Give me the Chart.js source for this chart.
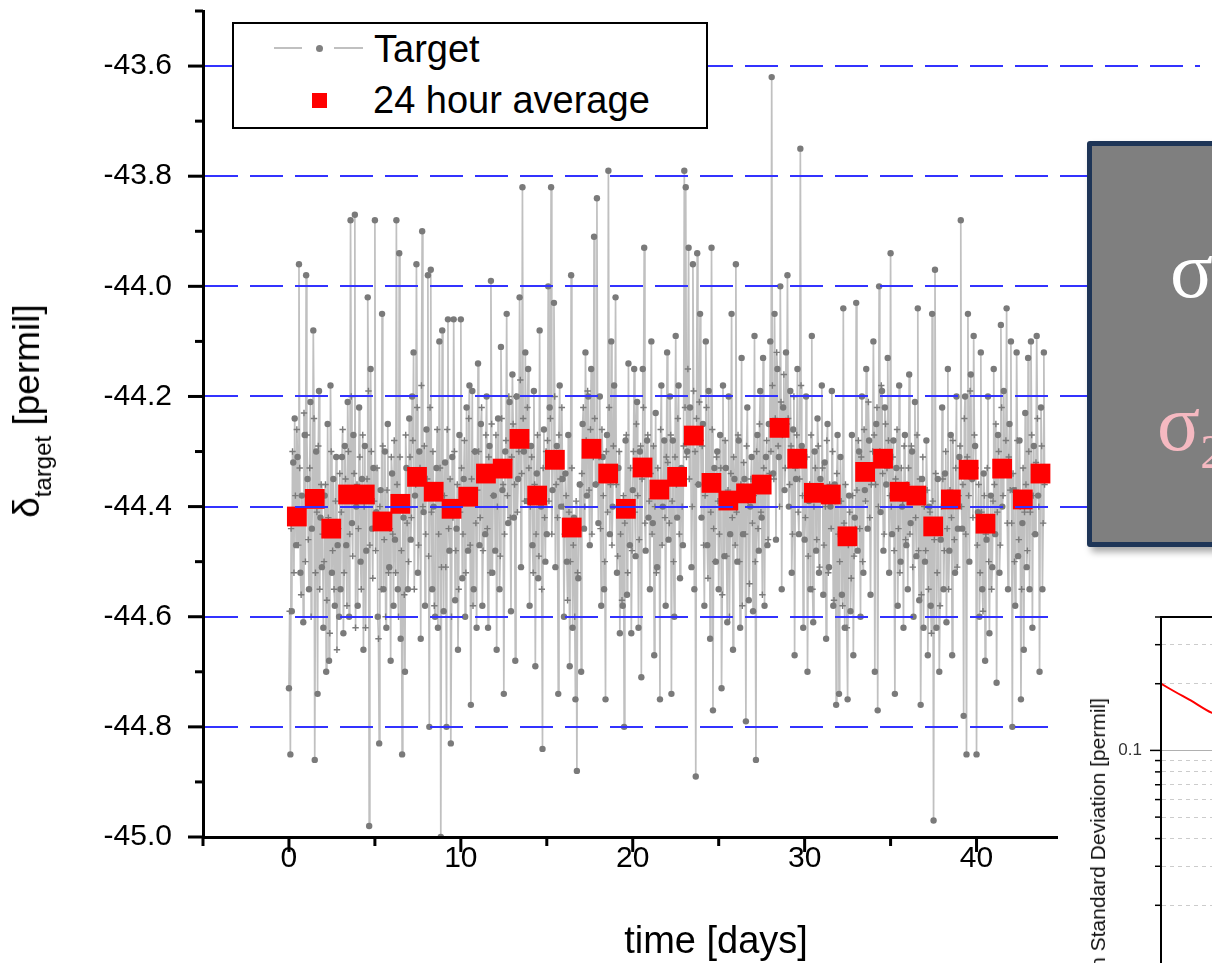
<!DOCTYPE html>
<html lang="en">
<head>
<meta charset="UTF-8">
<title>δ target – 24 hour average</title>
<script src="https://cdn.jsdelivr.net/npm/chart.js"></script>
<style>
  html, body { margin: 0; padding: 0; background: #fff; overflow: hidden; }
  body { width: 1212px; height: 963px; position: relative; font-family: "Liberation Sans", Arial, sans-serif; color: #000; }
  #main { position: absolute; left: 0; top: -3px; }
  #ytitle, #xtitle, #insetTitle { position: absolute; left: 0; top: 0; white-space: nowrap; line-height: 1; transform-origin: 0 0; }
  #ytitle { font-size: 37px; transform: translate(8px, 411px) rotate(-90deg) translateX(-50%); }
  #ytitle span { font-size: 24px; vertical-align: -12px; }
  #xtitle { font-size: 38px; left: 716px; top: 921px; transform: translateX(-50%); }
  #legend { position: absolute; left: 232px; top: 22px; width: 476px; height: 107px; box-sizing: border-box; border: 2px solid #000; background: #fff; }
  #legend div { position: absolute; }
  #legend .txt { font-size: 38px; line-height: 1; white-space: nowrap; }
  #note { position: absolute; left: 1087px; top: 141px; width: 200px; height: 406px; box-sizing: border-box;
          background: #7f7f7f; border: 5px solid #1e3557; border-radius: 3px; box-shadow: 4px 5px 7px rgba(0,0,0,0.35); }
  #note .sig { position: absolute; font-family: "Liberation Serif", "DejaVu Serif", serif; font-size: 80px; line-height: 1; white-space: nowrap; }
  #note .sig span { font-size: 48px; vertical-align: -18px; }
  #insetBg { position: absolute; left: 1058px; top: 570px; width: 200px; height: 420px; background: #fff; }
  #inset { position: absolute; left: 1058px; top: 570px; }
  #insetTitle { font-size: 21px; color: #111; transform: translate(1087px, 698px) rotate(-90deg) translateX(-100%); }
</style>
</head>
<body>
<canvas id="main" width="1214" height="966"></canvas>
<div id="ytitle">δ<span>target</span> [permil]</div>
<div id="xtitle">time [days]</div>

<div id="legend">
  <div style="left:40px; top:23px; width:28px; height:1.5px; background:#c0c0c0"></div>
  <div style="left:81.5px; top:20.5px; width:7px; height:7px; border-radius:50%; background:#808080"></div>
  <div style="left:100px; top:23px; width:29px; height:1.5px; background:#c0c0c0"></div>
  <div class="txt" style="left:140px; top:6px">Target</div>
  <div style="left:78px; top:69px; width:15px; height:15px; background:#ff0000"></div>
  <div class="txt" style="left:139px; top:57px">24 hour average</div>
</div>

<div id="note">
  <div class="sig" style="left:78px; top:84px; color:#ffffff">σ</div>
  <div class="sig" style="left:65px; top:237px; color:#f5b9c1">σ<span>2</span></div>
</div>

<div id="insetBg"></div>
<canvas id="inset" width="400" height="402"></canvas>
<div id="insetTitle">Allan Standard Deviation [permil]</div>

<script>
// target readings every hour; even hours (dots) and odd hours (crosses), one row per day
const HOURS_PER_DAY = 24;
const evenHourValues = [
  -44.73, -44.85, -44.59, -44.32, -44.24, -44.47, -44.31, -43.96, -44.52, -44.38, -44.61, -44.27, // day 0
  -43.98, -44.35, -44.55, -44.21, -44.44, -44.08, -44.86, -44.30, -44.74, -44.19, -44.42, -44.51,
  -44.62, -44.38, -44.70, -44.25, -44.68, -44.18, -44.52, -44.35, -44.58, -44.31, -44.47, -44.60,
  -44.55, -44.31, -44.63, -44.29, -44.47, -44.21, -44.60, -43.88, -44.43, -44.27, -43.87, -44.40,
  -44.58, -44.22, -44.50, -44.35, -44.66, -44.29, -44.48, -44.02, -44.98, -44.15, -44.44, -44.33,
  -43.88, -44.41, -44.60, -44.83, -44.37, -44.05, -44.55, -44.30, -44.62, -44.25, -44.51, -44.68, // day 5
  -44.34, -44.58, -44.46, -43.88, -44.55, -43.94, -44.64, -44.85, -44.42, -44.70, -44.33, -44.55,
  -44.24, -44.46, -44.20, -44.12, -44.38, -43.96, -44.52, -44.30, -44.64, -43.90, -44.41, -44.58,
  -44.26, -43.98, -44.80, -43.97, -44.55, -44.40, -44.60, -44.33, -44.62, -44.10, -45.00, -44.08,
  -44.59, -44.32, -44.80, -44.06, -44.48, -44.83, -44.31, -44.06, -44.57, -44.44, -44.66, -44.27,
  -44.06, -44.53, -44.35, -44.60, -44.22, -44.48, -44.18, -44.76, -44.19, -44.55, -44.30, -44.62, // day 10
  -44.14, -44.47, -44.25, -44.58, -44.33, -44.45, -44.20, -44.62, -44.29, -43.99, -44.52, -44.38,
  -44.48, -44.66, -44.24, -44.55, -44.11, -44.37, -44.74, -44.30, -44.05, -44.43, -44.21, -44.59,
  -44.16, -44.42, -44.68, -44.20, -44.35, -44.02, -44.51, -43.82, -44.30, -44.12, -44.39, -44.15,
  -44.58, -44.29, -44.47, -44.19, -44.69, -44.34, -44.53, -44.08, -44.40, -44.84, -44.26, -44.50,
  -44.45, -44.00, -44.22, -43.82, -44.37, -44.03, -44.51, -44.29, -44.74, -44.18, -44.40, -44.35, // day 15
  -44.60, -44.34, -44.50, -44.27, -44.69, -43.98, -44.62, -44.42, -44.75, -44.88, -44.53, -44.36,
  -44.70, -44.25, -44.44, -44.12, -44.38, -44.20, -44.47, -44.15, -44.29, -43.91, -44.36, -43.84,
  -44.43, -44.20, -44.58, -44.31, -44.55, -44.75, -44.27, -43.79, -44.45, -44.10, -44.40, -44.18,
  -44.02, -44.52, -44.33, -44.63, -44.41, -44.58, -44.80, -44.28, -44.56, -44.14, -44.47, -44.63,
  -44.37, -44.15, -44.49, -44.21, -44.62, -44.30, -44.71, -44.15, -43.93, -44.48, -44.28, -44.42, // day 20
  -44.55, -44.10, -44.43, -44.67, -44.23, -44.51, -44.36, -44.75, -44.18, -44.40, -44.28, -44.58,
  -44.12, -44.46, -44.20, -44.74, -44.28, -44.60, -44.09, -44.42, -44.18, -44.53, -44.33, -44.47,
  -43.79, -43.82, -44.30, -43.93, -44.22, -44.51, -43.96, -44.55, -44.89, -43.94, -44.36, -44.05,
  -44.42, -44.25, -44.58, -44.10, -44.47, -44.19, -44.64, -43.93, -44.77, -44.33, -44.50, -44.30,
  -44.55, -44.27, -44.73, -44.18, -44.49, -44.33, -44.61, -44.20, -44.45, -44.05, -44.66, -44.35, // day 25
  -43.96, -44.50, -44.28, -44.62, -44.13, -44.45, -44.35, -44.79, -44.22, -44.57, -44.40, -44.31,
  -44.59, -44.09, -44.86, -44.27, -44.48, -44.19, -44.42, -44.13, -44.58, -44.31, -44.47, -44.25,
  -44.10, -43.62, -44.34, -44.05, -44.46, -44.15, -44.31, -44.00, -44.55, -44.22, -44.37, -44.12,
  -43.98, -44.40, -44.19, -44.52, -44.26, -44.67, -44.35, -44.15, -44.45, -43.75, -44.29, -44.62,
  -44.46, -44.20, -44.70, -44.39, -44.55, -44.09, -44.61, -44.30, -44.48, -44.24, -44.52, -44.35, // day 30
  -44.18, -44.56, -44.32, -44.64, -44.25, -44.51, -44.40, -44.19, -44.58, -44.36, -44.76, -44.27,
  -44.74, -44.31, -44.56, -44.04, -44.62, -44.45, -44.75, -44.38, -44.59, -44.27, -44.67, -44.42,
  -44.03, -44.48, -44.30, -44.60, -44.20, -44.52, -44.37, -44.15, -44.44, -44.28, -44.56, -44.33,
  -44.10, -44.70, -44.25, -44.77, -44.00, -44.41, -44.19, -44.48, -44.22, -44.36, -44.13, -44.52,
  -43.94, -44.45, -44.28, -44.74, -44.33, -44.58, -44.18, -44.50, -44.40, -44.62, -44.27, -44.47, // day 35
  -44.55, -44.16, -44.43, -44.30, -44.60, -44.21, -44.49, -44.04, -44.57, -44.76, -44.35, -44.62,
  -44.50, -44.28, -44.67, -44.40, -44.58, -44.05, -44.97, -43.97, -44.62, -44.35, -44.70, -44.46,
  -44.22, -44.55, -44.34, -44.61, -44.15, -44.48, -44.27, -44.67, -44.38, -44.52, -44.20, -44.44,
  -44.31, -43.88, -44.44, -44.78, -44.20, -44.85, -44.05, -44.50, -44.16, -44.35, -44.09, -44.29,
  -44.85, -44.41, -44.60, -44.12, -44.55, -44.34, -44.68, -44.46, -44.20, -44.63, -44.38, -44.51, // day 40
  -44.15, -44.45, -44.72, -44.27, -44.52, -44.07, -44.40, -44.19, -44.33, -44.04, -44.55, -44.25,
  -44.10, -44.80, -44.37, -44.58, -44.12, -44.49, -44.28, -44.75, -44.43, -44.66, -44.23, -44.51,
  -44.13, -44.55, -44.10, -44.62, -44.29, -44.45, -44.09, -44.38, -44.70, -44.22, -44.55, -44.12
];
const oddHourValues = [
  -44.59, -44.44, -44.30, -44.52, -44.38, -44.26, -44.47, -44.33, -44.56, -44.41, -44.23, -44.50, // day 0
  -44.27, -44.46, -44.33, -44.60, -44.38, -44.24, -44.52, -44.41, -44.29, -44.55, -44.36, -44.45,
  -44.50, -44.36, -44.57, -44.42, -44.63, -44.30, -44.48, -44.55, -44.39, -44.66, -44.44, -44.34,
  -44.41, -44.26, -44.52, -44.35, -44.58, -44.30, -44.45, -44.20, -44.49, -44.34, -44.62, -44.36,
  -44.44, -44.31, -44.55, -44.27, -44.40, -44.62, -44.35, -44.19, -44.47, -44.30, -44.53, -44.39,
  -44.48, -44.33, -44.64, -44.40, -44.55, -44.29, -44.46, -44.60, -44.37, -44.52, -44.44, -44.31, // day 5
  -44.45, -44.28, -44.52, -44.36, -44.60, -44.31, -44.48, -44.39, -44.56, -44.27, -44.43, -44.50,
  -44.31, -44.42, -44.28, -44.55, -44.36, -44.22, -44.47, -44.33, -44.18, -44.40, -44.29, -44.45,
  -44.35, -44.49, -44.22, -44.41, -44.30, -44.58, -44.37, -44.26, -44.45, -44.33, -44.51, -44.40,
  -44.38, -44.51, -44.26, -44.44, -44.35, -44.60, -44.42, -44.30, -44.48, -44.36, -44.55, -44.41,
  -44.33, -44.45, -44.28, -44.52, -44.39, -44.24, -44.47, -44.35, -44.58, -44.30, -44.43, -44.37, // day 10
  -44.30, -44.42, -44.22, -44.48, -44.35, -44.27, -44.44, -44.31, -44.52, -44.25, -44.38, -44.33,
  -44.27, -44.40, -44.33, -44.49, -44.24, -44.36, -44.45, -44.28, -44.38, -44.20, -44.42, -44.31,
  -44.25, -44.36, -44.20, -44.41, -44.30, -44.17, -44.34, -44.24, -44.39, -44.28, -44.22, -44.33,
  -44.40, -44.31, -44.52, -44.36, -44.45, -44.27, -44.49, -44.38, -44.55, -44.33, -44.42, -44.30,
  -44.28, -44.39, -44.24, -44.45, -44.31, -44.20, -44.36, -44.42, -44.27, -44.35, -44.22, -44.40, // day 15
  -44.45, -44.38, -44.57, -44.41, -44.50, -44.33, -44.47, -44.60, -44.39, -44.52, -44.44, -44.36,
  -44.34, -44.22, -44.40, -44.28, -44.19, -44.37, -44.26, -44.45, -44.31, -44.24, -44.36, -44.29,
  -44.31, -44.44, -44.26, -44.38, -44.50, -44.30, -44.41, -44.22, -44.36, -44.47, -44.29, -44.35,
  -44.36, -44.49, -44.30, -44.45, -44.57, -44.38, -44.43, -44.27, -44.52, -44.40, -44.33, -44.48,
  -44.30, -44.41, -44.25, -44.38, -44.46, -44.29, -44.35, -44.22, -44.43, -44.32, -44.27, -44.39, // day 20
  -44.34, -44.45, -44.29, -44.40, -44.52, -44.33, -44.38, -44.26, -44.47, -44.36, -44.42, -44.31,
  -44.32, -44.43, -44.27, -44.39, -44.50, -44.31, -44.36, -44.24, -44.45, -44.34, -44.40, -44.29,
  -44.22, -44.31, -44.15, -44.35, -44.26, -44.40, -44.19, -44.30, -44.24, -44.36, -44.21, -44.28,
  -44.29, -44.47, -44.38, -44.22, -44.53, -44.35, -44.41, -44.26, -44.44, -44.50, -44.31, -44.39,
  -44.45, -44.33, -44.56, -44.40, -44.28, -44.49, -44.37, -44.60, -44.34, -44.42, -44.31, -44.47, // day 25
  -44.41, -44.27, -44.50, -44.36, -44.58, -44.32, -44.45, -44.29, -44.39, -44.54, -44.35, -44.43,
  -44.38, -44.50, -44.30, -44.44, -44.25, -44.41, -44.56, -44.33, -44.37, -44.28, -44.46, -44.34,
  -44.30, -44.18, -44.35, -44.24, -44.12, -44.29, -44.40, -44.21, -44.27, -44.16, -44.33, -44.25,
  -44.24, -44.36, -44.29, -44.45, -44.20, -44.33, -44.27, -44.41, -44.35, -44.18, -44.38, -44.30,
  -44.42, -44.31, -44.49, -44.36, -44.27, -44.55, -44.40, -44.33, -44.46, -44.29, -44.51, -44.37, // day 30
  -44.33, -44.47, -44.40, -44.28, -44.52, -44.36, -44.44, -44.30, -44.57, -44.39, -44.34, -44.45,
  -44.50, -44.39, -44.58, -44.43, -44.36, -44.62, -44.47, -44.41, -44.53, -44.38, -44.49, -44.44,
  -44.37, -44.28, -44.44, -44.31, -44.50, -44.26, -44.39, -44.33, -44.21, -44.42, -44.36, -44.30,
  -44.27, -44.36, -44.22, -44.40, -44.30, -44.18, -44.34, -44.45, -44.25, -44.33, -44.28, -44.38,
  -44.40, -44.31, -44.48, -44.35, -44.26, -44.44, -44.52, -44.33, -44.39, -44.29, -44.46, -44.36, // day 35
  -44.33, -44.45, -44.29, -44.51, -44.38, -44.42, -44.27, -44.48, -44.35, -44.56, -44.31, -44.40,
  -44.48, -44.37, -44.55, -44.41, -44.63, -44.39, -44.46, -44.34, -44.52, -44.43, -44.58, -44.40,
  -44.35, -44.48, -44.30, -44.44, -44.55, -44.37, -44.42, -44.28, -44.46, -44.33, -44.51, -44.38,
  -44.29, -44.40, -44.36, -44.24, -44.45, -44.31, -44.38, -44.19, -44.35, -44.42, -44.27, -44.33,
  -44.47, -44.36, -44.52, -44.41, -44.59, -44.38, -44.45, -44.33, -44.50, -44.42, -44.55, -44.39, // day 40
  -44.36, -44.25, -44.41, -44.30, -44.47, -44.22, -44.38, -44.34, -44.28, -44.43, -44.31, -44.37,
  -44.43, -44.34, -44.50, -44.37, -44.28, -44.46, -44.40, -44.55, -44.33, -44.41, -44.36, -44.48,
  -44.30, -44.41, -44.27, -44.38, -44.45, -44.32, -44.24, -44.40, -44.35, -44.29, -44.43, -44.36
];

// 24 hour averages
const avgDays = [0.46, 1.5, 2.46, 3.44, 4.41, 5.44, 6.48, 7.45, 8.42, 9.46, 10.43, 11.46, 12.43, 13.41, 14.44,
  15.47, 16.45, 17.6, 18.57, 19.6, 20.57, 21.55, 22.58, 23.55, 24.58, 25.56, 26.59, 27.5, 28.54, 29.57,
  30.54, 31.52, 32.49, 33.52, 34.56, 35.53, 36.5, 37.48, 38.51, 39.54, 40.52, 41.49, 42.69, 43.72];
const avgValues = [-44.418, -44.386, -44.440, -44.378, -44.378, -44.427, -44.395, -44.346, -44.373, -44.404,
  -44.382, -44.340, -44.331, -44.277, -44.380, -44.315, -44.438, -44.295, -44.340, -44.404,
  -44.329, -44.369, -44.346, -44.271, -44.357, -44.389, -44.376, -44.360, -44.257, -44.313,
  -44.375, -44.378, -44.454, -44.337, -44.313, -44.373, -44.380, -44.436, -44.387, -44.333,
  -44.431, -44.331, -44.387, -44.340];

// axes
const xTickValues = [-5, 0, 5, 10, 15, 20, 25, 30, 35, 40, 45, 50];
const xTickLabels = [0, 10, 20, 30, 40, 50];
const yTickValues = [-45.0, -44.9, -44.8, -44.7, -44.6, -44.5, -44.4, -44.3, -44.2, -44.1, -44.0, -43.9, -43.8, -43.7, -43.6, -43.5];
const yTickLabels = [-45.0, -44.8, -44.6, -44.4, -44.2, -44.0, -43.8, -43.6];
const yGridValues = [-44.8, -44.6, -44.4, -44.2, -44.0, -43.8, -43.6];

// inset (standard deviation vs averaging time)
const insetTau = [0, 0.5, 1.0, 1.7, 2.5];
const insetSigma = [0.2, 0.183, 0.168, 0.148, 0.136];
const insetTickValues = [0.02, 0.03, 0.04, 0.05, 0.06, 0.07, 0.08, 0.09, 0.1, 0.2, 0.3, 0.4];
const insetTickLabels = [0.1];

const FONT = "'Liberation Sans', Arial, sans-serif";
const has = (list, v) => list.some(t => Math.abs(t - v) < 1e-6);
const noEdgePadding = s => { s.paddingTop = 0; s.paddingBottom = 0; s.paddingLeft = 0; s.paddingRight = 0; };

// outward tick marks, long for labelled values, short otherwise
function tickMarks(cfg) {
  return {
    id: 'tickMarks',
    afterDraw(chart) {
      const ctx = chart.ctx;
      const a = chart.chartArea;
      ctx.save();
      ctx.strokeStyle = '#000';
      ctx.lineWidth = cfg.width;
      if (cfg.x) {
        const s = chart.scales.x;
        cfg.x.values.forEach(v => {
          const px = s.getPixelForValue(v);
          const len = has(cfg.x.major, v) ? cfg.x.majorLen : cfg.x.minorLen;
          ctx.beginPath(); ctx.moveTo(px, a.bottom); ctx.lineTo(px, a.bottom + len); ctx.stroke();
        });
      }
      if (cfg.y) {
        const s = chart.scales.y;
        cfg.y.values.forEach(v => {
          const py = s.getPixelForValue(v);
          const len = has(cfg.y.major, v) ? cfg.y.majorLen : cfg.y.minorLen;
          ctx.beginPath(); ctx.moveTo(a.left - len, py); ctx.lineTo(a.left, py); ctx.stroke();
        });
      }
      if (cfg.frameTop) {
        ctx.lineWidth = cfg.frameTop;
        ctx.beginPath(); ctx.moveTo(a.left, a.top); ctx.lineTo(a.right, a.top); ctx.stroke();
      }
      ctx.restore();
    }
  };
}

const targetPoints = [];
evenHourValues.forEach((v, i) => {
  targetPoints.push({ x: (2 * i) / HOURS_PER_DAY, y: v });
  targetPoints.push({ x: (2 * i + 1) / HOURS_PER_DAY, y: oddHourValues[i] });
});
const avgPoints = avgDays.map((d, i) => ({ x: d, y: avgValues[i] }));

new Chart(document.getElementById('main'), {
  type: 'line',
  data: {
    datasets: [
      {
        label: '24 hour average',
        data: avgPoints,
        showLine: false,
        pointStyle: 'rect',
        pointRadius: 14,
        pointBackgroundColor: '#ff0000',
        pointBorderColor: '#ff0000',
        pointBorderWidth: 0,
        order: 0
      },
      {
        label: 'Target',
        data: targetPoints,
        borderColor: '#c0c0c0',
        borderWidth: 1.7,
        tension: 0,
        pointStyle: c => c.dataIndex % 2 ? 'cross' : 'circle',
        pointRadius: 3.2,
        pointBackgroundColor: '#7a7a7a',
        pointBorderColor: '#7a7a7a',
        pointBorderWidth: c => c.dataIndex % 2 ? 1.4 : 0,
        order: 1
      }
    ]
  },
  options: {
    responsive: false,
    animation: false,
    events: [],
    layout: { padding: { top: 6, right: 0, bottom: 0, left: 0 } },
    plugins: { legend: { display: false }, tooltip: { enabled: false } },
    scales: {
      x: {
        type: 'linear',
        min: -5,
        max: 53,
        afterBuildTicks: s => { s.ticks = xTickValues.map(v => ({ value: v })); },
        afterFit: s => { s.height = 126; noEdgePadding(s); },
        grid: { display: false, drawTicks: false },
        border: { display: true, color: '#000', width: 3, z: 2 },
        ticks: {
          autoSkip: false,
          maxRotation: 0,
          padding: 4,
          color: '#000',
          font: { family: FONT, size: 30 },
          callback: v => has(xTickLabels, v) ? String(v) : ''
        }
      },
      y: {
        type: 'linear',
        min: -45.0,
        max: -43.5,
        afterBuildTicks: s => { s.ticks = yTickValues.map(v => ({ value: v })); },
        afterFit: s => { s.width = 203; noEdgePadding(s); },
        grid: {
          drawTicks: false,
          z: 1,
          color: c => c.tick && has(yGridValues, c.tick.value) ? '#3232ff' : 'rgba(0,0,0,0)',
          lineWidth: c => c.tick && has(yGridValues, c.tick.value) ? 2 : 0
        },
        border: { display: true, color: '#000', width: 3, z: 2, dash: [33, 12], dashOffset: 0 },
        ticks: {
          autoSkip: false,
          padding: 31,
          color: '#000',
          font: { family: FONT, size: 30 },
          callback: v => has(yTickLabels, v) ? v.toFixed(1) : ''
        }
      }
    }
  },
  plugins: [tickMarks({
    width: 3,
    x: { values: xTickValues, major: xTickLabels, majorLen: 15, minorLen: 9 },
    y: { values: yTickValues, major: yTickLabels, majorLen: 15, minorLen: 8 }
  })]
});

new Chart(document.getElementById('inset'), {
  type: 'line',
  data: {
    datasets: [{
      data: insetTau.map((t, i) => ({ x: t, y: insetSigma[i] })),
      borderColor: '#ff0000',
      borderWidth: 2,
      pointRadius: 0,
      tension: 0.3
    }]
  },
  options: {
    responsive: false,
    animation: false,
    events: [],
    layout: { padding: { top: 47, right: 0, bottom: 0, left: 0 } },
    plugins: { legend: { display: false }, tooltip: { enabled: false } },
    scales: {
      x: { type: 'linear', min: 0, max: 10, display: false },
      y: {
        type: 'logarithmic',
        min: 0.01,
        max: 0.4,
        afterBuildTicks: s => { s.ticks = insetTickValues.map(v => ({ value: v })); },
        afterFit: s => { s.width = 103; noEdgePadding(s); },
        grid: {
          drawTicks: false,
          color: c => !c.tick ? '#000' : has(insetTickLabels, c.tick.value) ? '#b0b0b0' : (c.tick.value > 0.35 ? 'rgba(0,0,0,0)' : '#cccccc'),
          lineWidth: 1
        },
        border: { display: true, color: '#000', width: 2, z: 2,
          dash: c => c.tick && !has(insetTickLabels, c.tick.value) ? [4, 4] : [] },
        ticks: {
          autoSkip: false,
          padding: 19,
          color: '#333',
          font: { family: FONT, size: 17 },
          callback: v => has(insetTickLabels, v) ? String(v) : ''
        }
      }
    }
  },
  plugins: [tickMarks({
    width: 1.5,
    frameTop: 2,
    y: { values: insetTickValues, major: insetTickLabels, majorLen: 11, minorLen: 6 }
  })]
});
</script>
</body>
</html>
